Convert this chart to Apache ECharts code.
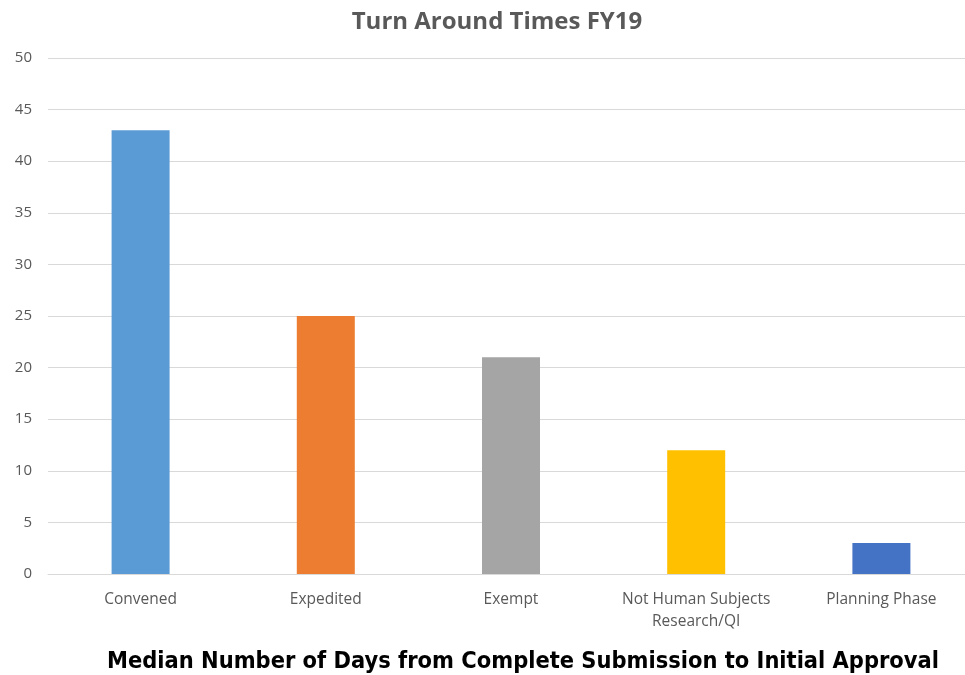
<!DOCTYPE html>
<html><head><meta charset="utf-8">
<script src="https://cdn.jsdelivr.net/npm/echarts@6/dist/echarts.min.js"></script>
<style>html,body{margin:0;padding:0;background:#fff;overflow:hidden}#c{width:975px;height:675px}</style>
</head><body><div id="c"></div>
<script>
const categories = ['Convened', 'Expedited', 'Exempt', 'Not Human Subjects\nResearch/QI', 'Planning Phase'];
const values = [43, 25, 21, 12, 3];
const colors = ['#5B9BD5', '#ED7D31', '#A5A5A5', '#FFC000', '#4472C4'];
const yTicks = [0, 50, 5];
const titleText = 'Turn Around Times FY19';
const xTitle = 'Median Number of Days from Complete Submission to Initial Approval';

const COND = '"DejaVu Sans Condensed", "Open Sans", sans-serif';
const OPEN = '"Open Sans", sans-serif';
const chart = echarts.init(document.getElementById('c'));
chart.setOption({
  animation: false,
  backgroundColor: '#fff',
  title: {
    text: titleText, left: 492, top: 5, textAlign: 'center',
    textStyle: { fontFamily: OPEN, fontSize: 24, fontWeight: 'bold', color: '#595959' }
  },
  graphic: [{
    type: 'text', position: [523, 662],
    style: { text: xTitle, font: 'bold 23.4px ' + COND, fill: '#000', textAlign: 'center', textVerticalAlign: 'middle' }
  }],
  grid: { left: 48, top: 58, right: 1, bottom: 101, containLabel: false },
  xAxis: {
    type: 'category', data: categories,
    axisLine: { lineStyle: { color: '#d9d9d9', width: 1 } },
    axisTick: { show: false },
    axisLabel: { interval: 0, hideOverlap: false, color: '#595959', fontFamily: OPEN, fontSize: 15.5, margin: 15, lineHeight: 22 }
  },
  yAxis: {
    type: 'value', min: yTicks[0], max: yTicks[1], interval: yTicks[2],
    axisLine: { show: false }, axisTick: { show: false },
    splitLine: { lineStyle: { color: '#d9d9d9', width: 1 } },
    axisLabel: { color: '#595959', fontFamily: OPEN, fontSize: 15, margin: 16 }
  },
  series: [{
    type: 'bar', barWidth: 58,
    data: values.map((v, i) => ({ value: v, itemStyle: { color: colors[i] } }))
  }]
});
</script></body></html>
